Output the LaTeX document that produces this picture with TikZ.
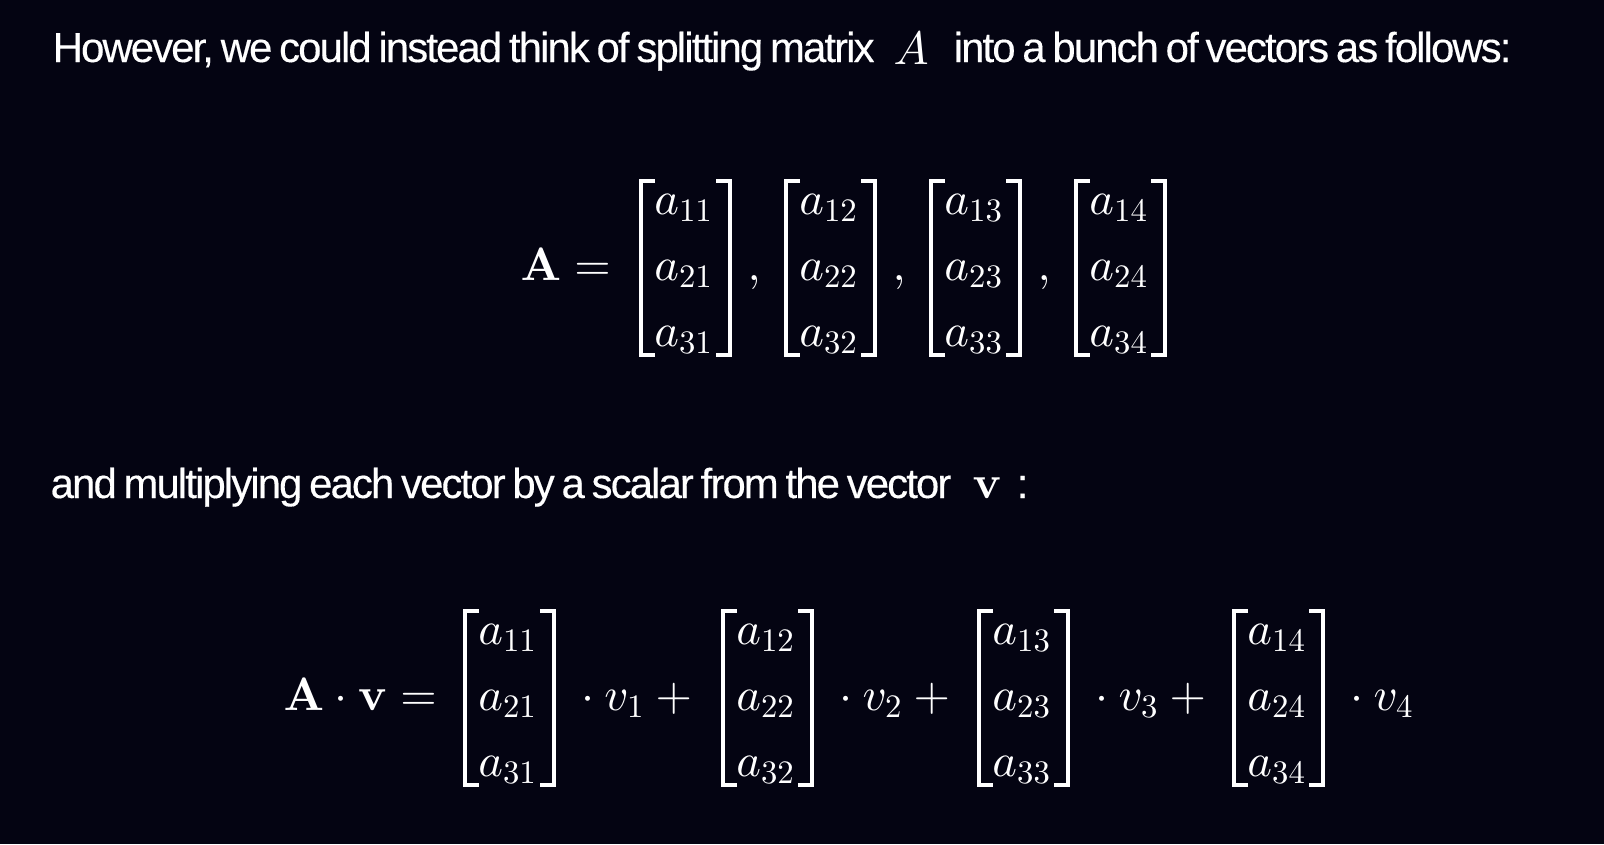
\documentclass[tikz,border=0pt]{standalone}
\usepackage[no-math]{fontspec}
\usepackage{amsmath}
\DeclareFontShape{OML}{cmm}{m}{it}{<->cmmi10}{}
\DeclareFontShape{OT1}{cmr}{m}{n}{<->cmr10}{}
\DeclareFontShape{OT1}{cmr}{bx}{n}{<->cmbx10}{}
\DeclareFontShape{OMS}{cmsy}{m}{n}{<->cmsy10}{}
\newfontfamily\prosefont{Liberation Sans}[LetterSpace=-4.5, WordSpace=0.7, FakeBold=0.3]
\definecolor{bgnavy}{RGB}{4,4,18}

\begin{document}
\begin{tikzpicture}[
  x=0.01cm, y=-0.01cm,
  prose/.style={anchor=base west, inner sep=0, text=white, font=\prosefont\fontsize{11.9}{14}\selectfont},
  mathsym/.style={anchor=base west, inner sep=0, text=white, font=\fontsize{13.3}{15}\selectfont},
  entry/.style={anchor=base, inner sep=0, text=white, font=\fontsize{13.3}{15}\selectfont},
  bracket/.style={draw=white, line width=1.1pt}
]

\fill[bgnavy] (0,0) rectangle (1604,844);

\node[prose] (intro) at (52,62) {However, we could instead think of splitting matrix};
\node[mathsym] (symA) at (893,64) {$A$};
\node[prose] (introrest) at (953,62) {into a bunch of vectors as follows:};

\node[prose] (multi) at (50,498) {and multiplying each vector by a scalar from the vector};
\node[mathsym] (symv) at (972,498) {$\mathbf{v}$};
\node[prose] (colon) at (1016,498) {:};

% A = [..],[..],[..],[..]
\node[mathsym] (lhsA) at (520,280) {$\mathbf{A} =$};

\foreach \c [count=\j] in {684,829,974,1119} {
  \node[entry] (top1\j) at (\c,214) {$a_{1\j}$};
  \node[entry] (top2\j) at (\c,280) {$a_{2\j}$};
  \node[entry] (top3\j) at (\c,346) {$a_{3\j}$};
  \draw[bracket] (\c-29,181) -- (\c-43,181) -- (\c-43,355) -- (\c-29,355);
  \draw[bracket] (\c+32,181) -- (\c+46,181) -- (\c+46,355) -- (\c+32,355);
}

\foreach \c [count=\j] in {684,829,974} {
  \node[entry] (comma\j) at (\c+70,280) {$,$};
}

% A . v = sum of columns times scalars
\node[mathsym] (lhsAv) at (283,710) {$\mathbf{A}\cdot\mathbf{v} =$};

\foreach \c [count=\j] in {508,766,1022,1277} {
  \node[entry] (bot1\j) at (\c,644) {$a_{1\j}$};
  \node[entry] (bot2\j) at (\c,710) {$a_{2\j}$};
  \node[entry] (bot3\j) at (\c,776) {$a_{3\j}$};
  \draw[bracket] (\c-29,611) -- (\c-43,611) -- (\c-43,785) -- (\c-29,785);
  \draw[bracket] (\c+32,611) -- (\c+46,611) -- (\c+46,785) -- (\c+32,785);
}

\foreach \c [count=\j] in {508,766,1022} {
  \node[mathsym] (scal\j) at (\c+62,710) {${}\cdot v_{\j} + {}$};
}
\node[mathsym] (scal4) at (1339,710) {${}\cdot v_4$};

\end{tikzpicture}
\end{document}
